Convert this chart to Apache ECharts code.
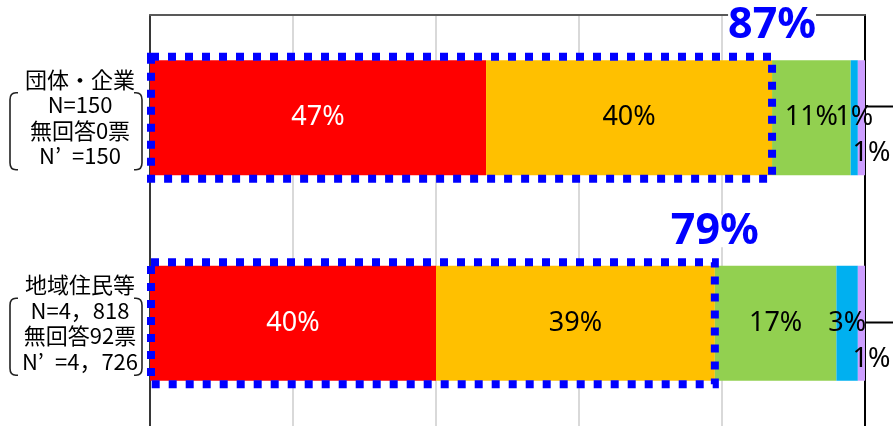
<!DOCTYPE html>
<html>
<head>
<meta charset="utf-8">
<script src="https://cdn.jsdelivr.net/npm/echarts@6/dist/echarts.min.js"></script>
<style>
  html, body { margin: 0; padding: 0; background: #fff; }
  #chart { width: 893px; height: 426px; }
</style>
</head>
<body>
<div id="chart"></div>
<script>
// Respondent groups (top to bottom)
const categories = ['団体・企業', '地域住民等'];
const sampleN = ['150', '4，818'];
const noAnswer = ['0', '92'];
const validN = ['150', '4，726'];

// Answer shares in percent, one array per answer choice
const share1 = [47, 40];
const share2 = [40, 39];
const share3 = [11, 17];
const share4 = [1, 3];
const share5 = [1, 1];

const segColors = ['#FF0000', '#FFC000', '#92D050', '#00B0F0', '#CC9EFF'];
const segLabelColors = ['#FFFFFF', '#000000', '#000000', '#000000', '#000000'];
const segNames = ['選択肢1', '選択肢2', '選択肢3', '選択肢4', '選択肢5'];
const segData = [share1, share2, share3, share4, share5];

// Combined share of the first two choices, outlined with a dotted box
const topTwo = share1.map((v, i) => v + share2[i]);

const chart = echarts.init(document.getElementById('chart'));

const barSeries = segData.map((vals, k) => ({
  name: segNames[k],
  type: 'bar',
  stack: 'total',
  barWidth: 115,
  data: vals,
  itemStyle: { color: segColors[k] },
  label: {
    show: true,
    position: 'inside',
    formatter: '{c}%',
    fontFamily: 'Noto Sans',
    fontSize: 27,
    color: segLabelColors[k],
    offset: k === 4 ? [10, 36] : [0, 0]
  }
}));

const boxSeries = {
  type: 'custom',
  coordinateSystem: 'cartesian2d',
  encode: { x: 0, y: 1 },
  clip: false,
  z: 5,
  data: topTwo.map((v, i) => [v, i]),
  renderItem: function (params, api) {
    const total = api.value(0);
    const cat = api.value(1);
    const start = api.coord([0, cat]);
    const end = api.coord([total, cat]);
    const cy = start[1];
    const top = cy - 61;
    const h = 122;
    // bracket around the sample-size lines of the axis label
    const bTop = cy - 25;
    const bBot = cy + 52;
    const ax = start[0];
    const lx = ax - 140, rx = ax - 8;
    const leftBracket = 'M' + (lx + 8) + ' ' + bTop + ' L' + (lx + 6) + ' ' + bTop +
      ' Q' + lx + ' ' + bTop + ' ' + lx + ' ' + (bTop + 7) +
      ' L' + lx + ' ' + (bBot - 7) +
      ' Q' + lx + ' ' + bBot + ' ' + (lx + 6) + ' ' + bBot + ' L' + (lx + 8) + ' ' + bBot;
    const rightBracket = 'M' + (rx - 8) + ' ' + bTop + ' L' + (rx - 6) + ' ' + bTop +
      ' Q' + rx + ' ' + bTop + ' ' + rx + ' ' + (bTop + 7) +
      ' L' + rx + ' ' + (bBot - 7) +
      ' Q' + rx + ' ' + bBot + ' ' + (rx - 6) + ' ' + bBot + ' L' + (rx - 8) + ' ' + bBot;
    return {
      type: 'group',
      children: [
        {
          type: 'rect',
          shape: { x: start[0] + 1, y: top, width: end[0] - start[0] - 1, height: h },
          style: { fill: 'none', stroke: '#0000FF', lineWidth: 8, lineDash: [8, 9] }
        },
        {
          type: 'text',
          style: {
            x: end[0],
            y: top - 31,
            text: total + '%',
            font: 'bold 43px "Noto Sans"',
            fill: '#0000FF',
            align: 'center',
            verticalAlign: 'middle',
            lineHeight: 32,
            backgroundColor: '#FFFFFF'
          }
        },
        {
          type: 'path',
          shape: { pathData: leftBracket },
          style: { fill: 'none', stroke: '#222222', lineWidth: 1.6 }
        },
        {
          type: 'path',
          shape: { pathData: rightBracket },
          style: { fill: 'none', stroke: '#222222', lineWidth: 1.6 }
        }
      ]
    };
  }
};

chart.setOption({
  animation: false,
  backgroundColor: '#FFFFFF',
  grid: { left: 150, top: 15, width: 715, height: 413 },
  xAxis: {
    type: 'value',
    position: 'top',
    min: 0,
    max: 100,
    interval: 20,
    axisLine: { show: true, lineStyle: { color: '#595959', width: 2 } },
    axisTick: { show: false },
    axisLabel: { show: false },
    splitLine: { show: true, lineStyle: { color: '#D9D9D9', width: 2 } }
  },
  yAxis: [
    {
      type: 'category',
      data: categories,
      inverse: true,
      axisLine: { show: true, lineStyle: { color: '#000000', width: 1.5 } },
      axisTick: { show: false },
      axisLabel: {
        margin: 70,
        align: 'center',
        fontFamily: 'Noto Sans CJK JP',
        fontSize: 22,
        lineHeight: 25.5,
        padding: [6, 0, 0, 0],
        color: '#000000',
        formatter: function (value, index) {
          return [
            value,
            'N=' + sampleN[index],
            '無回答' + noAnswer[index] + '票',
            'N’\u2002=' + validN[index]
          ].join('\n');
        }
      }
    },
    {
      type: 'category',
      data: categories,
      inverse: true,
      position: 'right',
      axisLine: { show: true, lineStyle: { color: '#000000', width: 2 } },
      axisTick: { show: false },
      axisLabel: { show: false }
    }
  ],
  graphic: [
    { type: 'line', shape: { x1: 866, y1: 106.5, x2: 893, y2: 106.5 }, style: { stroke: '#000', lineWidth: 2 } },
    { type: 'line', shape: { x1: 866, y1: 322.5, x2: 893, y2: 322.5 }, style: { stroke: '#000', lineWidth: 2 } }
  ],
  series: barSeries.concat([boxSeries])
});
</script>
</body>
</html>
